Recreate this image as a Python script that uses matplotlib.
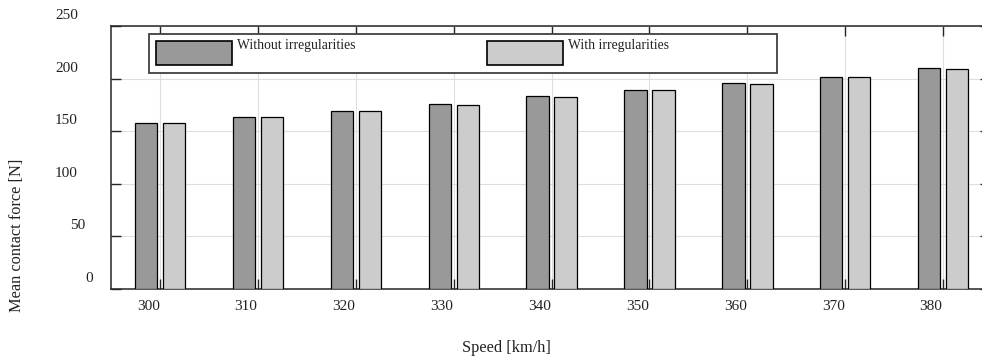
import matplotlib
matplotlib.use("Agg")
import matplotlib.pyplot as plt
from matplotlib.patches import Rectangle
from matplotlib.transforms import ScaledTranslation

speeds = [300, 310, 320, 330, 340, 350, 360, 370, 380]
force_without = [157.5, 163.7, 169.5, 175.4, 183.0, 189.0, 195.4, 201.8, 209.8]
force_with = [157.4, 163.6, 169.4, 175.3, 182.9, 188.9, 195.3, 201.5, 209.4]
y_ticks = [0, 50, 100, 150, 200, 250]
series_labels = ["Without irregularities", "With irregularities"]

W, H, DPI = 982, 361, 100
DARK = "#999999"
LIGHT = "#cccccc"
TEXT = "#222222"
FONT = "Liberation Serif"


def fx(px):
    return px / W


def fy(py):
    return 1 - py / H


def px_offset(fig, dx, dy):
    return ScaledTranslation(dx / DPI, dy / DPI, fig.dpi_scale_trans)


def draw_legend(fig):
    fig.patches.append(Rectangle((fx(149), fy(73)), fx(777) - fx(149), fy(34) - fy(73),
                                 transform=fig.transFigure, facecolor="white",
                                 edgecolor="#404040", linewidth=1.3, zorder=5))
    items = [(156, DARK, series_labels[0]), (487, LIGHT, series_labels[1])]
    for x0, color, label in items:
        fig.patches.append(Rectangle((fx(x0), fy(65)), fx(76), fy(41) - fy(65),
                                     transform=fig.transFigure, facecolor=color,
                                     edgecolor="black", linewidth=1.2, zorder=6))
        fig.text(fx(x0 + 81), fy(48.5), label, ha="left", va="baseline",
                 fontsize=9.8, family=FONT, color=TEXT, zorder=7)


def plot_forces():
    fig = plt.figure(figsize=(W / DPI, H / DPI), dpi=DPI)
    ax = fig.add_axes([fx(111.3), fy(289), fx(990) - fx(111.3), fy(26) - fy(289)])

    width = 2.3
    off = 1.43
    ax.bar([s - off for s in speeds], force_without, width, color=DARK,
           edgecolor="black", linewidth=0.9, zorder=3)
    ax.bar([s + off for s in speeds], force_with, width, color=LIGHT,
           edgecolor="black", linewidth=0.9, zorder=3)

    ax.set_xlim(295, 384.8)
    ax.set_ylim(0, 250)
    ax.set_xticks(speeds)
    ax.set_yticks(y_ticks)
    ax.set_xticklabels([])
    ax.set_yticklabels([])
    ax.tick_params(direction="in", length=7, width=1.0, color="#262626",
                   top=True, right=True)
    ax.grid(True, color="#dedede", linewidth=0.8, zorder=0)
    ax.set_axisbelow(True)
    for sp in ax.spines.values():
        sp.set_color("#262626")
        sp.set_linewidth(1.1)

    # tick labels sit a bit off their ticks in the original, keep that
    for s in speeds:
        ax.text(s, 0, str(s), transform=ax.get_xaxis_transform() + px_offset(fig, -12, -18),
                ha="center", va="center", fontsize=11, family=FONT, color=TEXT)
    for v in y_ticks:
        lab = str(v)
        dx = -33.3 + 7.5 * (3 - len(lab))
        ax.text(0, v, lab, transform=ax.get_yaxis_transform() + px_offset(fig, dx, 10.5),
                ha="right", va="center", fontsize=11, family=FONT, color=TEXT)

    fig.text(fx(17), fy(235.5), "Mean contact force [N]", rotation=90,
             ha="center", va="center", fontsize=11.8, family=FONT, color=TEXT)
    fig.text(fx(506), fy(348), "Speed [km/h]", ha="center", va="center",
             fontsize=11.8, family=FONT, color=TEXT)

    draw_legend(fig)
    fig.savefig("out.png", dpi=DPI)


def main():
    plot_forces()


if __name__ == "__main__":
    main()
